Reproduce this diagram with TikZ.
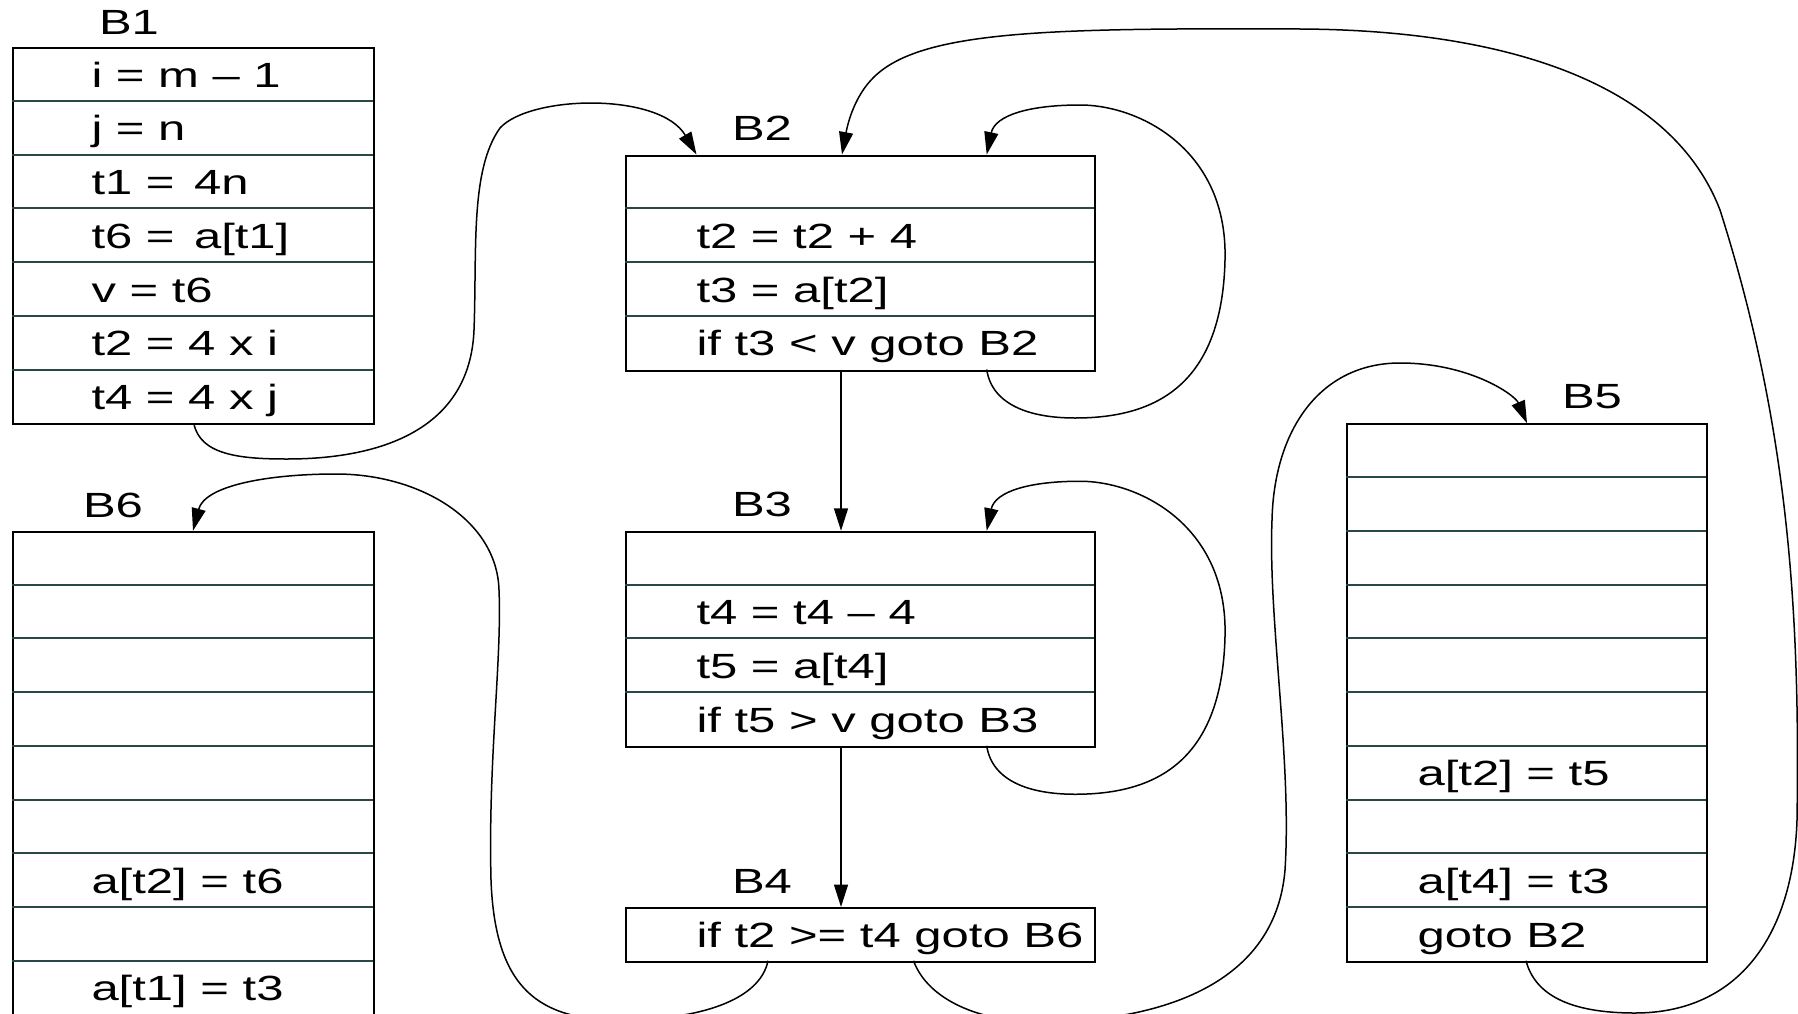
\documentclass[tikz,border=0pt]{standalone}
\usepackage{fontspec}
\setmainfont{Liberation Sans}[FakeStretch=1.4]
\usetikzlibrary{arrows.meta}
\definecolor{sepcol}{RGB}{40,72,72}
\begin{document}
\begin{tikzpicture}[x=0.4pt,y=-0.4pt,
  blk/.style={draw=black,line width=0.8pt,inner sep=0pt,anchor=north west},
  sepline/.style={draw=sepcol,line width=0.8pt},
  txt/.style={anchor=base west,inner sep=0pt,font=\fontsize{14pt}{16pt}\selectfont},
  lbl/.style={anchor=center,inner sep=0pt,font=\fontsize{14pt}{16pt}\selectfont},
  flow/.style={draw=black,line width=0.6pt,-{Triangle[length=9pt,width=5.6pt]}}]
\useasboundingbox (0,0) rectangle (1798,1013);
\clip (0,0) rectangle (1798,1013);

% ---------- B1 ----------
\node[lbl] (L1) at (129,22) {B1};
\node[blk,minimum width=144.5pt,minimum height=150.5pt] (B1) at (11.5,47) {};
\foreach \k in {1,...,6} \draw[sepline] (11.5,{47+53.75*\k}) -- (372.7,{47+53.75*\k});
\node[txt] (b1a) at (91,87) {i = m – 1};
\node[txt] (b1b) at (91,140.75) {j = n};
\node[txt] (b1c) at (91,194.5) {t1 = \,4n};
\node[txt] (b1d) at (91,248.25) {t6 = \,a[t1]};
\node[txt] (b1e) at (91,302) {v = t6};
\node[txt] (b1f) at (91,355.75) {t2 = 4 x i};
\node[txt] (b1g) at (91,409.5) {t4 = 4 x j};

% ---------- B2 ----------
\node[lbl] (L2) at (762,128.5) {B2};
\node[blk,minimum width=187.6pt,minimum height=86pt] (B2) at (625,154.5) {};
\foreach \k in {1,...,3} \draw[sepline] (625,{154.5+53.75*\k}) -- (1094,{154.5+53.75*\k});
\node[txt] (b2b) at (696,248.25) {t2 = t2 + 4};
\node[txt] (b2c) at (696,302) {t3 = a[t2]};
\node[txt] (b2d) at (696,355.75) {if t3 < v goto B2};

% ---------- B3 ----------
\node[lbl] (L3) at (762,504.75) {B3};
\node[blk,minimum width=187.6pt,minimum height=86pt] (B3) at (625,530.75) {};
\foreach \k in {1,...,3} \draw[sepline] (625,{530.75+53.75*\k}) -- (1094,{530.75+53.75*\k});
\node[txt] (b3b) at (696,624.5) {t4 = t4 – 4};
\node[txt] (b3c) at (696,678.25) {t5 = a[t4]};
\node[txt] (b3d) at (696,732) {if t5 > v goto B3};

% ---------- B4 ----------
\node[lbl] (L4) at (762,881) {B4};
\node[blk,minimum width=187.6pt,minimum height=21.5pt] (B4) at (625,907) {};
\node[txt] (b4a) at (696,947) {if t2 >= t4 goto B6};

% ---------- B5 ----------
\node[lbl] (L5) at (1592,397) {B5};
\node[blk,minimum width=144pt,minimum height=215pt] (B5) at (1346,423.25) {};
\foreach \k in {1,...,9} \draw[sepline] (1346,{423.25+53.75*\k}) -- (1706,{423.25+53.75*\k});
\node[txt] (b5g) at (1417,785.75) {a[t2] = t5};
\node[txt] (b5i) at (1417,893.25) {a[t4] = t3};
\node[txt] (b5j) at (1417,947) {goto B2};

% ---------- B6 ----------
\node[lbl] (L6) at (113,505) {B6};
\node[blk,minimum width=144.5pt,minimum height=215pt] (B6) at (11.5,530.75) {};
\foreach \k in {1,...,9} \draw[sepline] (11.5,{530.75+53.75*\k}) -- (372.7,{530.75+53.75*\k});
\node[txt] (b6g) at (91,893.25) {a[t2] = t6};
\node[txt] (b6i) at (91,1000.75) {a[t1] = t3};

% ---------- connection points ----------
\coordinate (s12) at (193.8,423.25);
\coordinate (t12) at (696.5,154.5);
\coordinate (s22) at (986.7,369.5);
\coordinate (t22) at (986.7,154.5);
\coordinate (s23) at (841,369.5);
\coordinate (t23) at (841,530.75);
\coordinate (s33) at (986.7,745.75);
\coordinate (t33) at (986.7,530.75);
\coordinate (s34) at (841,745.75);
\coordinate (t34) at (841,907);
\coordinate (s46) at (768,960.75);
\coordinate (t46) at (193,530.75);
\coordinate (s45) at (913.5,960.75);
\coordinate (t45) at (1527,423.25);
\coordinate (s52) at (1526,960.75);
\coordinate (t52) at (842,154.5);

% ---------- connectors ----------
\draw[flow] (s12) .. controls (200,455) and (240,459) .. (287,459)
  .. controls (380,459) and (470,430) .. (474,330)
  .. controls (477,250) and (470,170) .. (500,128)
  .. controls (530,95) and (660,92) .. (t12);
\draw[flow] (s22) .. controls (992,405) and (1030,418) .. (1075,418)
  .. controls (1150,418) and (1222,390) .. (1225,260)
  .. controls (1228,150) and (1140,105) .. (1080,105)
  .. controls (1030,105) and (995,115) .. (t22);
\draw[flow] (s23) -- (t23);
\draw[flow] (s33) .. controls (992,781.25) and (1030,794.25) .. (1075,794.25)
  .. controls (1150,794.25) and (1222,766.25) .. (1225,636.25)
  .. controls (1228,526.25) and (1140,481.25) .. (1080,481.25)
  .. controls (1030,481.25) and (995,491.25) .. (t33);
\draw[flow] (s34) -- (t34);
\draw[flow] (s46) .. controls (760,1000) and (700,1020) .. (620,1020)
  .. controls (540,1020) and (495,990) .. (491,880)
  .. controls (488,760) and (502,660) .. (499,590)
  .. controls (497,520) and (420,474) .. (336,474)
  .. controls (270,474) and (205,485) .. (t46);
\draw[flow] (s45) .. controls (928,1000) and (980,1022) .. (1040,1022)
  .. controls (1150,1022) and (1275,990) .. (1285,870)
  .. controls (1292,760) and (1268,620) .. (1272,520)
  .. controls (1274,430) and (1320,363) .. (1400,363)
  .. controls (1470,363) and (1515,395) .. (t45);
\draw[flow] (s52) .. controls (1535,995) and (1570,1013) .. (1635,1013)
  .. controls (1735,1013) and (1793,940) .. (1797,820)
  .. controls (1800,620) and (1790,430) .. (1720,210)
  .. controls (1670,80) and (1500,30) .. (1300,29)
  .. controls (1050,28) and (920,30) .. (873,78)
  .. controls (855,96) and (848,122) .. (t52);
\end{tikzpicture}
\end{document}
